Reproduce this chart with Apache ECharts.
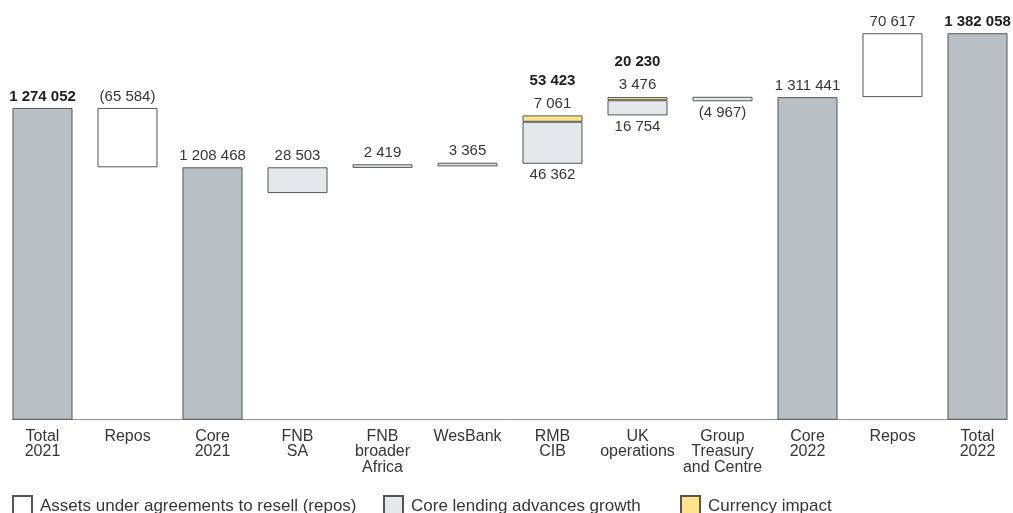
<!DOCTYPE html>
<html>
<head>
<meta charset="utf-8">
<script src="https://cdn.jsdelivr.net/npm/echarts@6/dist/echarts.min.js"></script>
<style>
html, body { margin: 0; padding: 0; background: #fff; }
#chart { width: 1013px; height: 513px; }
</style>
</head>
<body>
<div id="chart"></div>
<script>
var categories = ['Total\n2021', 'Repos', 'Core\n2021', 'FNB\nSA', 'FNB\nbroader\nAfrica', 'WesBank',
    'RMB\nCIB', 'UK\noperations', 'Group\nTreasury\nand Centre', 'Core\n2022', 'Repos', 'Total\n2022'];

// bar levels as drawn in the picture (the hidden base is where each floating bar starts)
var baseLevels   = [0, 1208468, 0, 1179965, 1207800, 1209500, 1212400, 1265800, 1281400, 0, 1286000, 0];
var totalValues  = [1274052, '-', 1208468, '-', '-', '-', '-', '-', '-', 1286000, '-', 1356600];
var reposValues  = ['-', 65584, '-', '-', '-', '-', '-', '-', '-', '-', 70617, '-'];
var coreValues   = ['-', '-', '-', 28503, 2419, 3365, 46362, 16754, 4967, '-', '-', '-'];
var fxValues     = ['-', '-', '-', '-', '-', '-', 7061, 3476, '-', '-', '-', '-'];

// printed labels
var totalLabels  = ['1 274 052', '', '1 208 468', '', '', '', '', '', '', '1 311 441', '', '1 382 058'];
var totalBold    = [true, false, false, false, false, false, false, false, false, false, false, true];
var reposLabels  = ['', '(65 584)', '', '', '', '', '', '', '', '', '70 617', ''];
var coreLabels   = ['', '', '', '28 503', '2 419', '3 365', '46 362', '16 754', '(4 967)', '', '', ''];
var coreBelow    = [false, false, false, false, false, false, true, true, true, false, false, false];
var fxLabels     = ['', '', '', '', '', '', '7 061', '3 476', '', '', '', ''];
var segLabels    = ['', '', '', '', '', '', '53 423', '20 230', '', '', '', ''];

var FONT = "'Liberation Sans', Arial, Helvetica, sans-serif";
var TXT = '#363636';
var EDGE = '#555';

var chart = echarts.init(document.getElementById('chart'));

var totalData = totalValues.map(function (v, i) {
    return {
        value: v,
        label: { fontWeight: totalBold[i] ? 'bold' : 'normal', color: totalBold[i] ? '#1e1e1e' : TXT }
    };
});

var coreData = coreValues.map(function (v, i) {
    return { value: v, label: { position: coreBelow[i] ? 'bottom' : 'top' } };
});

function textOf(arr) {
    return function (p) { return arr[p.dataIndex]; };
}

var barLabel = {
    show: true,
    position: 'top',
    distance: 4,
    fontSize: 15,
    fontFamily: FONT,
    color: TXT
};

var legendText = { fontSize: 17, fontFamily: FONT, color: TXT, padding: [0, 0, 0, 3] };

var opts = {
    animation: false,
    backgroundColor: '#fff',
    grid: [
        { left: 0, width: 1020, top: 19.3, bottom: 93.7, outerBoundsMode: 'none', containLabel: false },
        { left: 12.3, right: 5.7, top: 19.3, bottom: 93.7, outerBoundsMode: 'none', containLabel: false }
    ],
    xAxis: [
        {
            type: 'category',
            data: categories,
            gridIndex: 0,
            axisLine: { show: false },
            axisTick: { show: false },
            axisLabel: {
                interval: 0,
                margin: 9,
                fontSize: 16,
                lineHeight: 15.8,
                fontFamily: FONT,
                color: TXT
            }
        },
        {
            // plain baseline under the bars
            type: 'value',
            gridIndex: 1,
            min: 0,
            max: 1,
            axisLine: { show: true, onZero: false, lineStyle: { color: '#8e8e8e', width: 1 } },
            axisTick: { show: false },
            axisLabel: { show: false },
            splitLine: { show: false }
        }
    ],
    yAxis: [
        { type: 'value', gridIndex: 0, min: 930000, max: 1372000, show: false },
        { type: 'value', gridIndex: 1, min: 0, max: 1, show: false }
    ],
    legend: [
        {
            data: ['Assets under agreements to resell (repos)'],
            left: 12, top: 495, padding: 0,
            icon: 'rect', itemWidth: 19, itemHeight: 20,
            textStyle: legendText
        },
        {
            data: ['Core lending advances growth'],
            left: 383, top: 495, padding: 0,
            icon: 'rect', itemWidth: 19, itemHeight: 20,
            textStyle: legendText
        },
        {
            data: ['Currency impact'],
            left: 680, top: 495, padding: 0,
            icon: 'rect', itemWidth: 19, itemHeight: 20,
            textStyle: legendText
        }
    ],
    series: [
        {
            name: 'base',
            type: 'bar',
            stack: 'w',
            barWidth: 60,
            silent: true,
            itemStyle: { color: 'transparent', borderWidth: 0 },
            data: baseLevels
        },
        {
            name: 'Total',
            type: 'bar',
            stack: 'w',
            barWidth: 60,
            itemStyle: { color: '#b8bfc5', borderColor: EDGE, borderWidth: 1 },
            label: Object.assign({}, barLabel, { formatter: textOf(totalLabels) }),
            data: totalData
        },
        {
            name: 'Assets under agreements to resell (repos)',
            type: 'bar',
            stack: 'w',
            barWidth: 60,
            itemStyle: { color: '#ffffff', borderColor: EDGE, borderWidth: 1 },
            label: Object.assign({}, barLabel, { formatter: textOf(reposLabels) }),
            data: reposValues
        },
        {
            name: 'Core lending advances growth',
            type: 'bar',
            stack: 'w',
            barWidth: 60,
            barMinHeight: 3.6,
            itemStyle: { color: '#e5e8eb', borderColor: EDGE, borderWidth: 1 },
            label: Object.assign({}, barLabel, { formatter: textOf(coreLabels) }),
            data: coreData
        },
        {
            name: 'Currency impact',
            type: 'bar',
            stack: 'w',
            barWidth: 60,
            itemStyle: { color: '#fee48d', borderColor: EDGE, borderWidth: 1 },
            label: Object.assign({}, barLabel, {
                distance: 1,
                formatter: function (p) {
                    return '{b|' + segLabels[p.dataIndex] + '}\n{n|' + fxLabels[p.dataIndex] + '}';
                },
                rich: {
                    b: { fontSize: 15, fontWeight: 'bold', color: '#1e1e1e', fontFamily: FONT, lineHeight: 24 },
                    n: { fontSize: 15, color: TXT, fontFamily: FONT, lineHeight: 22 }
                }
            }),
            data: fxValues
        }
    ]
};

chart.setOption(opts);
</script>
</body>
</html>
